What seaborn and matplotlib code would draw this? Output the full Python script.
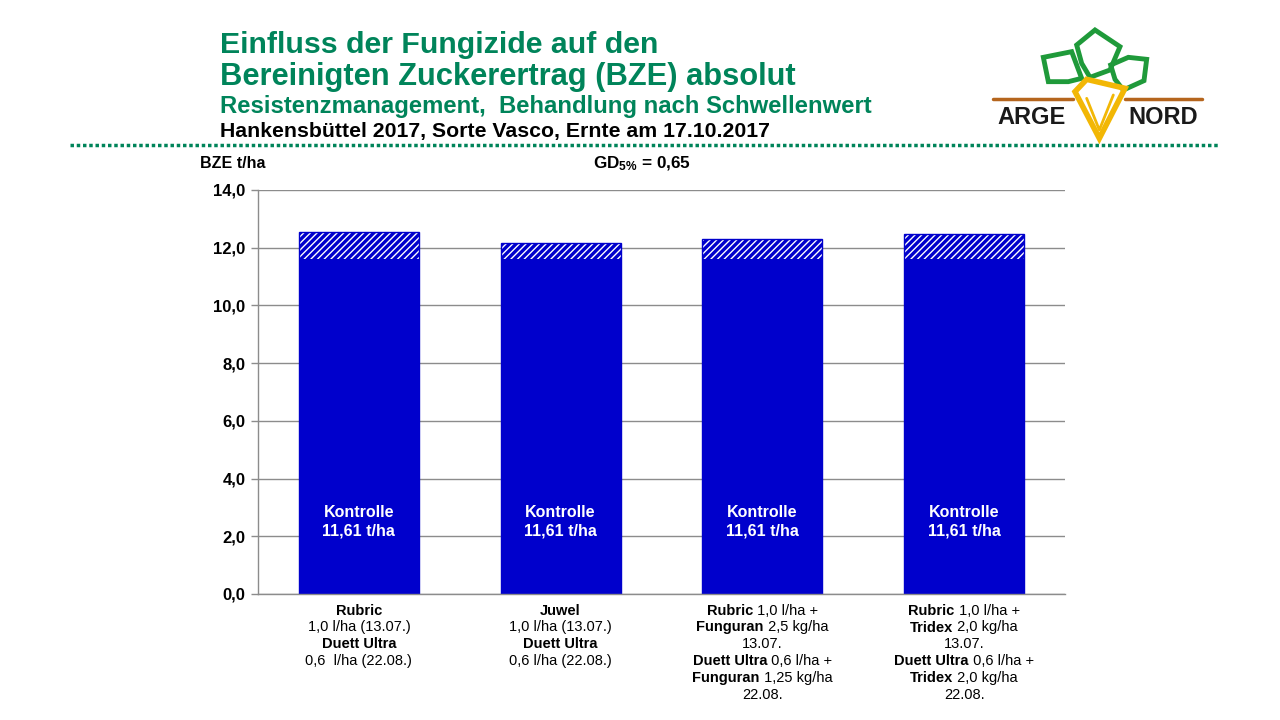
import numpy as np
import pandas as pd
import seaborn as sns
import matplotlib.pyplot as plt
from matplotlib.patches import Polygon
from matplotlib.lines import Line2D
from matplotlib.offsetbox import TextArea, HPacker, VPacker, AnnotationBbox

BLUE = "#0000CC"
GREEN = "#00845A"

categories = ["Rubric / Duett Ultra", "Juwel / Duett Ultra",
              "Rubric + Funguran / Duett Ultra + Funguran",
              "Rubric + Tridex / Duett Ultra + Tridex"]
# tick label lines as (bold part, normal part)
label_lines = [
    [("Rubric", ""), ("", "1,0 l/ha (13.07.)"), ("Duett Ultra", ""), ("", "0,6  l/ha (22.08.)")],
    [("Juwel", ""), ("", "1,0 l/ha (13.07.)"), ("Duett Ultra", ""), ("", "0,6 l/ha (22.08.)")],
    [("Rubric", " 1,0 l/ha +"), ("Funguran", " 2,5 kg/ha"), ("", "13.07."),
     ("Duett Ultra", " 0,6 l/ha +"), ("Funguran", " 1,25 kg/ha"), ("", "22.08.")],
    [("Rubric", " 1,0 l/ha +"), ("Tridex", " 2,0 kg/ha"), ("", "13.07."),
     ("Duett Ultra", " 0,6 l/ha +"), ("Tridex", " 2,0 kg/ha"), ("", "22.08.")],
]
kontrolle = [11.61, 11.61, 11.61, 11.61]
bze_total = [12.53, 12.15, 12.30, 12.46]
y_ticks = [0, 2, 4, 6, 8, 10, 12, 14]

sns.set_theme(style="white")
plt.rcParams["font.family"] = ["Liberation Sans", "DejaVu Sans"]
plt.rcParams["mathtext.fontset"] = "custom"
plt.rcParams["mathtext.rm"] = "Liberation Sans"
plt.rcParams["mathtext.bf"] = "Liberation Sans:bold"
plt.rcParams["mathtext.it"] = "Liberation Sans:italic"
plt.rcParams["hatch.linewidth"] = 2.4
plt.rcParams["text.color"] = "black"
plt.rcParams["xtick.labelcolor"] = "black"
plt.rcParams["ytick.labelcolor"] = "black"

df = pd.DataFrame({"Variante": categories, "Kontrolle": kontrolle, "BZE": bze_total})

fig = plt.figure(figsize=(12.8, 7.2), dpi=100)
ax = fig.add_axes([258 / 1280, 1 - 594 / 720, (1065 - 258) / 1280, (594 - 190) / 720])

sns.barplot(data=df, x="Variante", y="BZE", color="white", saturation=1,
            edgecolor=BLUE, linewidth=1, hatch="/////", width=0.595, ax=ax)
sns.barplot(data=df, x="Variante", y="Kontrolle", color=BLUE, saturation=1,
            linewidth=0, width=0.595, ax=ax)

for i, k in enumerate(kontrolle):
    ax.text(i, 2.5, "Kontrolle\n" + f"{k:.2f}".replace(".", ",") + " t/ha",
            ha="center", va="center", color="white", fontsize=11.5,
            fontweight="bold", linespacing=1.3)

ax.set_ylim(0, 14)
ax.set_xlim(-0.5, len(categories) - 0.5)
ax.set_yticks(y_ticks)
ax.set_yticklabels([f"{v:.1f}".replace(".", ",") for v in y_ticks],
                   fontsize=12, fontweight="bold")
ax.yaxis.grid(True, color="#8c8c8c", linewidth=1)
ax.set_axisbelow(True)
ax.tick_params(axis="y", length=5, width=1, color="#8c8c8c", left=True, pad=4)
ax.tick_params(axis="x", length=0)
ax.set_xticklabels([])
ax.set_xlabel("")
ax.set_ylabel("")
for s in ["top", "right"]:
    ax.spines[s].set_visible(False)
for s in ["left", "bottom"]:
    ax.spines[s].set_color("#8c8c8c")
    ax.spines[s].set_linewidth(1)

# category labels with mixed bold / normal text
for i, lines in enumerate(label_lines):
    rows = []
    for bold, normal in lines:
        parts = []
        if bold:
            parts.append(TextArea(bold, textprops=dict(fontsize=10.5, fontweight="bold")))
        if normal:
            parts.append(TextArea(normal, textprops=dict(fontsize=10.5)))
        rows.append(HPacker(children=parts, sep=0, pad=0, align="baseline"))
    box = VPacker(children=rows, sep=2.0, pad=0, align="center")
    ax.add_artist(AnnotationBbox(box, (i, 0), xycoords=("data", "axes fraction"),
                                 xybox=(0, -7), boxcoords="offset points",
                                 box_alignment=(0.5, 1), frameon=False,
                                 annotation_clip=False))

# titles
fig.text(220 / 1280, 1 - 45 / 720, "Einfluss der Fungizide auf den", color=GREEN,
         fontsize=21.8, fontweight="bold", va="center")
fig.text(220 / 1280, 1 - 77 / 720, "Bereinigten Zuckerertrag (BZE) absolut", color=GREEN,
         fontsize=22.2, fontweight="bold", va="center")
fig.text(220 / 1280, 1 - 106 / 720, "Resistenzmanagement,  Behandlung nach Schwellenwert",
         color=GREEN, fontsize=17.2, fontweight="bold", va="center")
fig.text(220 / 1280, 1 - 132 / 720, "Hankensbüttel 2017, Sorte Vasco, Ernte am 17.10.2017",
         color="black", fontsize=15.3, fontweight="bold", va="center")
fig.add_artist(Line2D([70 / 1280, 1220 / 1280], [1 - 145 / 720, 1 - 145 / 720],
                      color=GREEN, linewidth=2.5, dashes=(1, 0.8)))

fig.text(200 / 1280, 1 - 163 / 720, "BZE t/ha", fontsize=11.5, fontweight="bold", va="center")
fig.text(593 / 1280, 1 - 164 / 720, "GD$_{\\mathbf{5\\%}}$ = 0,65", fontsize=12.3,
         fontweight="bold", va="center")

# logo
lg = fig.add_axes([980 / 1280, 1 - 150 / 720, 240 / 1280, 130 / 720])
lg.set_xlim(0, 720)
lg.set_ylim(390, 0)
lg.axis("off")
leaf_green = "#1f9a3a"
leaves = [
    [(190, 112), (275, 95), (305, 175), (265, 185), (205, 185)],
    [(290, 75), (345, 30), (420, 80), (390, 150), (330, 172), (305, 130)],
    [(392, 135), (445, 112), (500, 118), (492, 182), (430, 210), (405, 178)],
]
for pts in leaves:
    lg.add_patch(Polygon(pts, closed=True, fill=False, edgecolor=leaf_green, linewidth=3.5))
lg.plot([40, 280], [237, 237], color="#b5651d", linewidth=2.5)
lg.plot([435, 665], [237, 237], color="#b5651d", linewidth=2.5)
lg.add_patch(Polygon([(285, 215), (320, 178), (435, 205), (358, 355)], closed=True,
                     fill=False, edgecolor="#f2b705", linewidth=4))
lg.plot([320, 358, 400], [235, 330, 225], color="#f2b705", linewidth=2)
lg.text(155, 292, "ARGE", fontsize=17, fontweight="bold", color="#1a1a1a",
        ha="center", va="center")
lg.text(550, 292, "NORD", fontsize=17, fontweight="bold", color="#1a1a1a",
        ha="center", va="center")

fig.savefig("out.png", dpi=100)
